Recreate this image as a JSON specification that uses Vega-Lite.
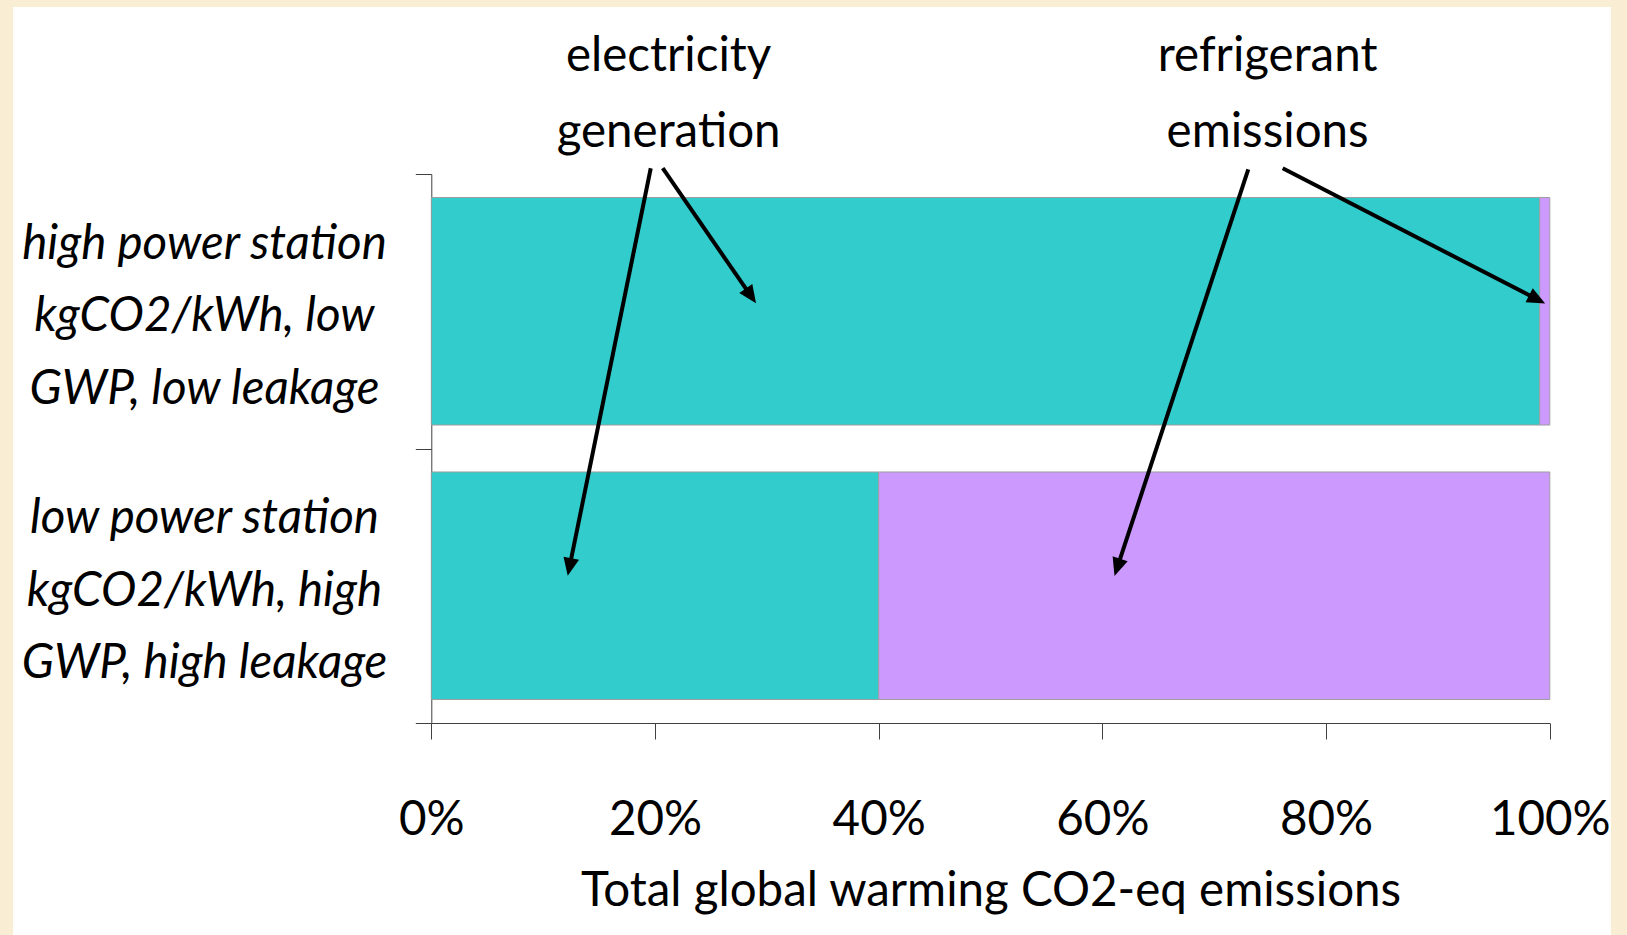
{
  "$schema": "https://vega.github.io/schema/vega-lite/v6.json",
  "autosize": {"type": "none"},
  "width": 1598,
  "height": 928,
  "padding": {"left": 13, "top": 7, "right": 16, "bottom": 0},
  "background": "#F9EDD4",
  "config": {"view": {"fill": "white", "stroke": null}, "font": "Lato"},
  "datasets": {
    "shares": [
      {"scenario": "high power station kgCO2/kWh, low GWP, low leakage", "source": "electricity generation", "share": 99.1},
      {"scenario": "high power station kgCO2/kWh, low GWP, low leakage", "source": "refrigerant emissions", "share": 0.9},
      {"scenario": "low power station kgCO2/kWh, high GWP, high leakage", "source": "electricity generation", "share": 40},
      {"scenario": "low power station kgCO2/kWh, high GWP, high leakage", "source": "refrigerant emissions", "share": 60}
    ],
    "notes": [
      {"note": "electricity generation", "x": 21.22, "level": 2.376},
      {"note": "refrigerant emissions", "x": 74.77, "level": 2.376}
    ],
    "arrows": [
      {"source": "electricity generation", "x": 20.69, "level": 2.021, "x_end": 28.62, "level_end": 1.553, "heading": 145.35},
      {"source": "electricity generation", "x": 19.62, "level": 2.021, "x_end": 12.34, "level_end": 0.565, "heading": 191.5},
      {"source": "refrigerant emissions", "x": 73.04, "level": 2.017, "x_end": 61.31, "level_end": 0.564, "heading": 198.2},
      {"source": "refrigerant emissions", "x": 76.12, "level": 2.021, "x_end": 98.94, "level_end": 1.542, "heading": 117.23}
    ]
  },
  "layer": [
    {
      "data": {"name": "shares"},
      "mark": {"type": "bar", "stroke": "#9E9E9E", "strokeWidth": 1, "height": {"band": 0.829}},
      "encoding": {
        "y": {
          "field": "scenario",
          "type": "nominal",
          "sort": [
            "high power station kgCO2/kWh, low GWP, low leakage",
            "low power station kgCO2/kWh, high GWP, high leakage"
          ],
          "scale": {"range": [167, 716], "paddingInner": 0, "paddingOuter": 0},
          "axis": {
            "title": null,
            "offset": -418.3,
            "tickBand": "extent",
            "tickSize": 16,
            "tickColor": "#404040",
            "domainColor": "#404040",
            "grid": false,
            "labelExpr": "split(replace(replace(datum.label, ' kgCO2', '|kgCO2'), ' GWP', '|GWP'), '|')",
            "labelFont": "Lato",
            "labelFontStyle": "italic",
            "labelFontSize": 47.5,
            "labelColor": "black",
            "labelAlign": "center",
            "labelBaseline": "middle",
            "labelLineHeight": 72.5,
            "labelPadding": 211.3,
            "labelLimit": 0,
            "labelOffset": -67
          }
        },
        "x": {
          "field": "share",
          "type": "quantitative",
          "stack": "zero",
          "scale": {"domain": [0, 100], "range": [418.3, 1536.8], "nice": false, "zero": false},
          "axis": {
            "orient": "bottom",
            "zindex": 1,
            "values": [0, 20, 40, 60, 80, 100],
            "labelExpr": "datum.value + '%'",
            "title": "Total global warming CO2-eq emissions",
            "offset": -212,
            "tickSize": 16,
            "tickColor": "#404040",
            "domainColor": "#404040",
            "grid": false,
            "labelFont": "Lato",
            "labelFontSize": 47.5,
            "labelColor": "black",
            "labelPadding": 95,
            "labelBaseline": "alphabetic",
            "labelFlush": false,
            "labelOverlap": false,
            "titleFont": "Lato",
            "titleFontSize": 47.5,
            "titleFontWeight": "normal",
            "titleColor": "black",
            "titleBaseline": "alphabetic",
            "titleY": 182
          }
        },
        "color": {
          "field": "source",
          "type": "nominal",
          "scale": {"domain": ["electricity generation", "refrigerant emissions"], "range": ["#33CCCC", "#CC99FF"]},
          "legend": null
        },
        "order": {"field": "source", "type": "nominal", "sort": "ascending"}
      }
    },
    {
      "data": {"name": "arrows"},
      "mark": {"type": "rule", "color": "black", "strokeWidth": 4},
      "encoding": {
        "x": {"field": "x", "type": "quantitative", "scale": {"domain": [0, 100], "range": [418.3, 1536.8], "nice": false, "zero": false}},
        "x2": {"field": "x_end"},
        "y": {"field": "level", "type": "quantitative", "scale": {"domain": [0, 2], "range": [716, 167], "nice": false, "zero": false}, "axis": null},
        "y2": {"field": "level_end"}
      }
    },
    {
      "data": {"name": "arrows"},
      "mark": {"type": "point", "shape": "M0,-0.45L-0.44,0.55L0.44,0.55Z", "filled": true, "color": "black", "opacity": 1, "size": 1296, "strokeWidth": 0},
      "encoding": {
        "x": {"field": "x_end", "type": "quantitative", "scale": {"domain": [0, 100], "range": [418.3, 1536.8], "nice": false, "zero": false}},
        "y": {"field": "level_end", "type": "quantitative", "scale": {"domain": [0, 2], "range": [716, 167], "nice": false, "zero": false}, "axis": null},
        "angle": {"field": "heading", "type": "quantitative", "scale": null}
      }
    },
    {
      "data": {"name": "notes"},
      "mark": {"type": "text", "font": "Lato", "fontSize": 47.5, "color": "black", "align": "center", "baseline": "alphabetic", "lineBreak": " ", "lineHeight": 76},
      "encoding": {
        "x": {"field": "x", "type": "quantitative", "scale": {"domain": [0, 100], "range": [418.3, 1536.8], "nice": false, "zero": false}},
        "y": {"field": "level", "type": "quantitative", "scale": {"domain": [0, 2], "range": [716, 167], "nice": false, "zero": false}, "axis": null},
        "text": {"field": "note"}
      }
    }
  ],
  "resolve": {"scale": {"y": "independent"}, "axis": {"y": "independent"}}
}
